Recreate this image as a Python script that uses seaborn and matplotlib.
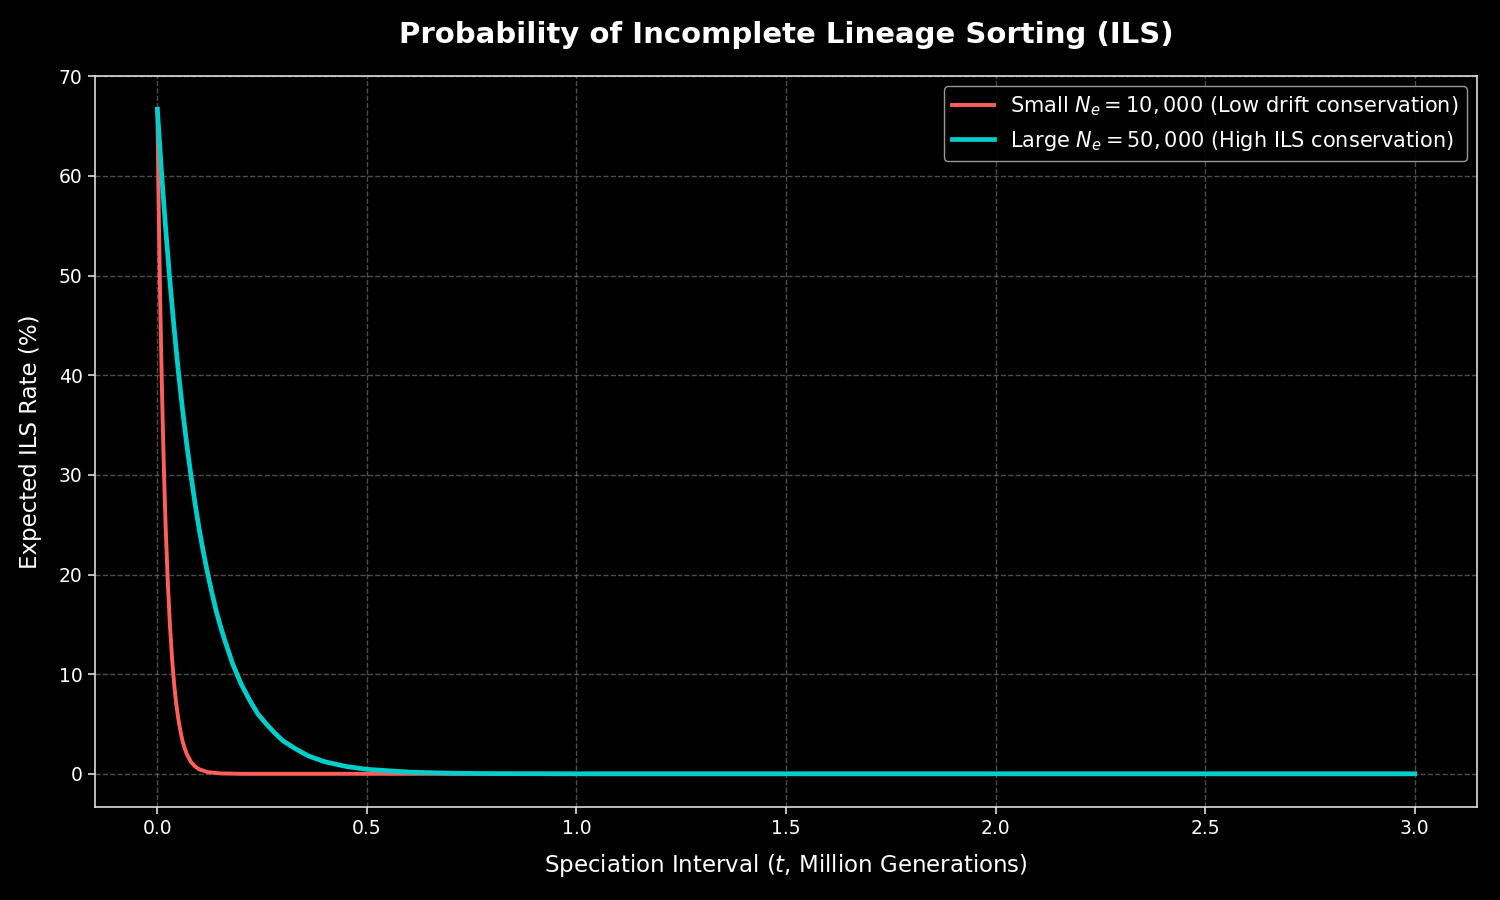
#!/usr/bin/env python

import numpy as np
import matplotlib
matplotlib.use('Agg')
import matplotlib.pyplot as plt
import seaborn as sns
import pandas as pd

# values
t_small = [0.0, 0.0025, 0.005, 0.0075, 0.01, 0.0125, 0.015, 0.0175, 0.02, 0.025, 0.03, 0.035,
           0.04, 0.045, 0.05, 0.055, 0.06, 0.065, 0.07, 0.08, 0.09, 0.10, 0.12, 0.15, 0.2,
           0.5, 1.0, 2.0, 3.0]
ils_small = [66.7, 58.8, 51.9, 45.8, 40.4, 35.7, 31.5, 27.8, 24.5, 19.1, 14.9, 11.6,
             9.0, 7.0, 5.5, 4.3, 3.3, 2.6, 2.0, 1.2, 0.74, 0.45, 0.17, 0.04, 0.0,
             0.0, 0.0, 0.0, 0.0]

t_large = [0.0, 0.01, 0.02, 0.03, 0.04, 0.05, 0.06, 0.07, 0.08, 0.09, 0.10, 0.11, 0.12,
           0.13, 0.14, 0.15, 0.16, 0.18, 0.20, 0.22, 0.24, 0.26, 0.28, 0.30, 0.33, 0.36,
           0.40, 0.45, 0.50, 0.60, 0.70, 0.80, 1.0, 1.5, 2.0, 2.5, 3.0]
ils_large = [66.7, 60.3, 54.6, 49.4, 44.7, 40.4, 36.6, 33.1, 30.0, 27.1, 24.5, 22.2, 20.1,
             18.2, 16.4, 14.9, 13.5, 11.0, 9.0, 7.4, 6.0, 5.0, 4.1, 3.3, 2.5, 1.8,
             1.2, 0.74, 0.45, 0.17, 0.06, 0.02, 0.0, 0.0, 0.0, 0.0, 0.0]

label_small = r'Small $N_e = 10,000$ (Low drift conservation)'
label_large = r'Large $N_e = 50,000$ (High ILS conservation)'

df = pd.concat([
    pd.DataFrame({'t': t_small, 'ils': ils_small, 'group': label_small}),
    pd.DataFrame({'t': t_large, 'ils': ils_large, 'group': label_large}),
])

plt.style.use('dark_background')
plt.rcParams['font.family'] = ['DejaVu Sans']

fig, ax = plt.subplots(figsize=(15, 9), dpi=100)
fig.subplots_adjust(left=0.063, right=0.985, top=0.9156, bottom=0.1033)

sns.lineplot(data=df[df.group == label_small], x='t', y='ils', color='#ff5f5a',
             linewidth=2.8, label=label_small, ax=ax)
sns.lineplot(data=df[df.group == label_large], x='t', y='ils', color='#00cecb',
             linewidth=3.4, label=label_large, ax=ax)

ax.set_title('Probability of Incomplete Lineage Sorting (ILS)', fontsize=21,
             fontweight='bold', pad=24)
ax.set_xlabel(r'Speciation Interval ($t$, Million Generations)', fontsize=16.5, labelpad=10)
ax.set_ylabel('Expected ILS Rate (%)', fontsize=16.5, labelpad=12)
ax.tick_params(labelsize=13.5, length=5, width=1.2, color='#dddddd')
ax.grid(True, linestyle='--', color='gray', alpha=0.6, linewidth=1)
for s in ax.spines.values():
    s.set_color('#dddddd')
    s.set_linewidth(1.2)

leg = ax.legend(loc='upper right', fontsize=15, framealpha=0.9)
leg.get_frame().set_edgecolor('#aaaaaa')

fig.savefig('out.png', dpi=100)
